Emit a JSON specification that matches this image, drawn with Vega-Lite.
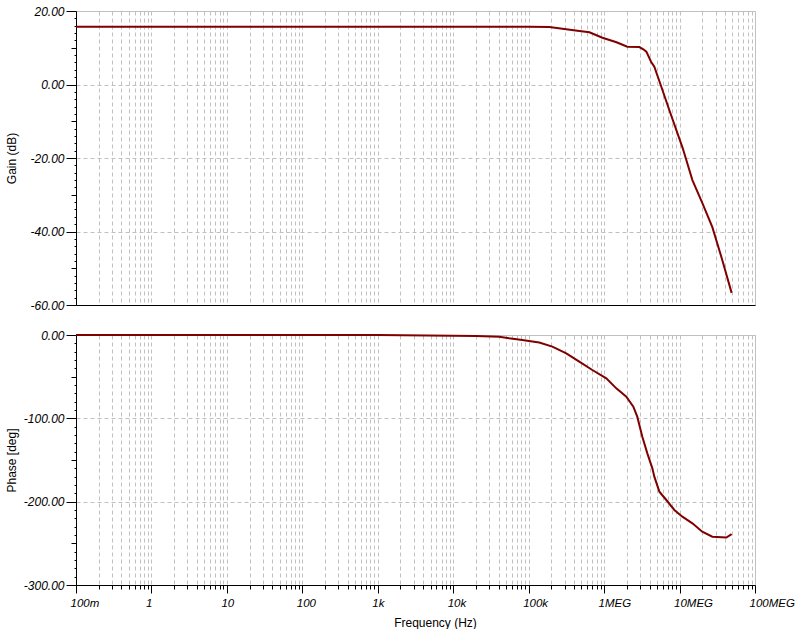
{
  "$schema": "https://vega.github.io/schema/vega-lite/v6.json",
  "padding": {"left": 4, "top": 4, "right": 0, "bottom": 0},
  "background": "white",
  "spacing": 30,
  "bounds": "flush",
  "datasets": {
    "gain": [
      {"f": 0.1, "v": 15.73},
      {"f": 1000, "v": 15.73},
      {"f": 100000, "v": 15.72},
      {"f": 188000, "v": 15.65},
      {"f": 280000, "v": 15.18},
      {"f": 470000, "v": 14.56},
      {"f": 638000, "v": 14.2},
      {"f": 950000, "v": 12.73},
      {"f": 1460000, "v": 11.48},
      {"f": 2030000, "v": 10.29},
      {"f": 2930000, "v": 10.2},
      {"f": 3310000, "v": 9.58},
      {"f": 3630000, "v": 8.93},
      {"f": 4190000, "v": 6.2},
      {"f": 4630000, "v": 4.84},
      {"f": 5730000, "v": -0.6},
      {"f": 7310000, "v": -6.94},
      {"f": 11000000, "v": -17.3},
      {"f": 14800000, "v": -26.0},
      {"f": 20000000, "v": -32.2},
      {"f": 27200000, "v": -38.8},
      {"f": 36900000, "v": -47.8},
      {"f": 49000000, "v": -56.7}
    ],
    "phase": [
      {"f": 0.1, "v": 0},
      {"f": 1000, "v": -0.1},
      {"f": 9700, "v": -0.9},
      {"f": 20000, "v": -1.3},
      {"f": 40800, "v": -2},
      {"f": 55000, "v": -4},
      {"f": 82000, "v": -6},
      {"f": 138000, "v": -9},
      {"f": 206000, "v": -14},
      {"f": 315000, "v": -22},
      {"f": 469000, "v": -32},
      {"f": 698000, "v": -42},
      {"f": 1070000, "v": -52},
      {"f": 1450000, "v": -64},
      {"f": 1970000, "v": -74},
      {"f": 2440000, "v": -86},
      {"f": 2750000, "v": -98},
      {"f": 3210000, "v": -122},
      {"f": 3740000, "v": -142},
      {"f": 4360000, "v": -160},
      {"f": 4630000, "v": -170},
      {"f": 5400000, "v": -188},
      {"f": 6680000, "v": -198},
      {"f": 8530000, "v": -210},
      {"f": 10900000, "v": -218},
      {"f": 14800000, "v": -226},
      {"f": 20000000, "v": -236},
      {"f": 27200000, "v": -242},
      {"f": 41700000, "v": -243},
      {"f": 49000000, "v": -239}
    ]
  },
  "vconcat": [
    {
      "width": 679,
      "height": 294,
      "data": {"name": "gain"},
      "mark": {"type": "line", "color": "#800000", "strokeWidth": 2, "clip": false},
      "encoding": {
        "x": {
          "field": "f", "type": "quantitative",
          "scale": {"type": "log", "domain": [0.1, 100000000], "nice": false},
          "axis": {
            "title": null, "labels": false, "ticks": false, "grid": true,
            "values": [0.1,0.2,0.3,0.4,0.5,0.6,0.7,0.8,0.9,1,2,3,4,5,6,7,8,9,10,20,30,40,50,60,70,80,90,100,200,300,400,500,600,700,800,900,1000,2000,3000,4000,5000,6000,7000,8000,9000,10000,20000,30000,40000,50000,60000,70000,80000,90000,100000,200000,300000,400000,500000,600000,700000,800000,900000,1000000,2000000,3000000,4000000,5000000,6000000,7000000,8000000,9000000,10000000,20000000,30000000,40000000,50000000,60000000,70000000,80000000,90000000,100000000]
          }
        },
        "y": {
          "field": "v", "type": "quantitative",
          "scale": {"domain": [-60, 20], "nice": false, "zero": false},
          "axis": {
            "title": "Gain (dB)",
            "titleX": -65, "titleY": 147, "titleAngle": 270, "titleBaseline": "middle", "titleAlign": "center",
            "values": [-60,-58,-56,-54,-52,-50,-48,-46,-44,-42,-40,-38,-36,-34,-32,-30,-28,-26,-24,-22,-20,-18,-16,-14,-12,-10,-8,-6,-4,-2,0,2,4,6,8,10,12,14,16,18,20],
            "tickSize": {"condition": [{"test": "abs(datum.value) % 20 == 0", "value": 10}, {"test": "abs(datum.value) % 10 == 0", "value": 5}], "value": 2},
            "gridOpacity": {"condition": {"test": "abs(datum.value) % 20 == 0", "value": 1}, "value": 0},
            "labelExpr": "abs(datum.value) % 20 == 0 ? (datum.value < 0 ? '-' : '') + format(abs(datum.value), '.2f') : ''",
            "labelPadding": 2
          }
        }
      }
    },
    {
      "width": 679,
      "height": 250,
      "data": {"name": "phase"},
      "mark": {"type": "line", "color": "#800000", "strokeWidth": 2, "clip": false},
      "encoding": {
        "x": {
          "field": "f", "type": "quantitative",
          "scale": {"type": "log", "domain": [0.1, 100000000], "nice": false},
          "axis": {
            "title": "Frequency (Hz)",
            "titleX": 359, "titleY": 41.5, "titleBaseline": "alphabetic", "titleAlign": "center",
            "grid": true,
            "values": [0.1,0.2,0.3,0.4,0.5,0.6,0.7,0.8,0.9,1,2,3,4,5,6,7,8,9,10,20,30,40,50,60,70,80,90,100,200,300,400,500,600,700,800,900,1000,2000,3000,4000,5000,6000,7000,8000,9000,10000,20000,30000,40000,50000,60000,70000,80000,90000,100000,200000,300000,400000,500000,600000,700000,800000,900000,1000000,2000000,3000000,4000000,5000000,6000000,7000000,8000000,9000000,10000000,20000000,30000000,40000000,50000000,60000000,70000000,80000000,90000000,100000000],
            "tickSize": {"condition": {"test": "abs(log(datum.value)/LN10 - round(log(datum.value)/LN10)) < 0.01", "value": 8}, "value": 4},
            "labelExpr": "abs(log(datum.value)/LN10 - round(log(datum.value)/LN10)) < 0.01 ? ['100m','1','10','100','1k','10k','100k','1MEG','10MEG','100MEG'][round(log(datum.value)/LN10)+1] : ''",
            "labelAlign": "left",
            "labelOffset": -6,
            "labelBaseline": "top",
            "labelPadding": 4,
            "labelFontSize": 11.5
          }
        },
        "y": {
          "field": "v", "type": "quantitative",
          "scale": {"domain": [-300, 0], "nice": false, "zero": false},
          "axis": {
            "title": "Phase [deg]",
            "titleX": -65, "titleY": 125, "titleAngle": 270, "titleBaseline": "middle", "titleAlign": "center",
            "values": [-300,-290,-280,-270,-260,-250,-240,-230,-220,-210,-200,-190,-180,-170,-160,-150,-140,-130,-120,-110,-100,-90,-80,-70,-60,-50,-40,-30,-20,-10,0],
            "tickSize": {"condition": [{"test": "abs(datum.value) % 100 == 0", "value": 10}, {"test": "abs(datum.value) % 50 == 0", "value": 5}], "value": 2},
            "gridOpacity": {"condition": {"test": "abs(datum.value) % 100 == 0", "value": 1}, "value": 0},
            "labelExpr": "abs(datum.value) % 100 == 0 ? (datum.value < 0 ? '-' : '') + format(abs(datum.value), '.2f') : ''",
            "labelPadding": 2
          }
        }
      }
    }
  ],
  "config": {
    "font": "Liberation Sans",
    "view": {"stroke": "#c0c0c0", "strokeWidth": 1},
    "axis": {
      "domainColor": "#000000",
      "domainWidth": 1,
      "tickColor": "#000000",
      "tickWidth": 1,
      "gridColor": "#c0c0c0",
      "gridDash": [4, 3],
      "gridWidth": 1,
      "labelFont": "Liberation Sans",
      "labelFontSize": 12,
      "labelFontStyle": "italic",
      "labelColor": "#000000",
      "labelOverlap": false,
      "labelBound": false,
      "labelFlush": false,
      "titleFont": "Liberation Sans",
      "titleFontSize": 12,
      "titleFontWeight": "normal",
      "titleColor": "#000000"
    }
  }
}
